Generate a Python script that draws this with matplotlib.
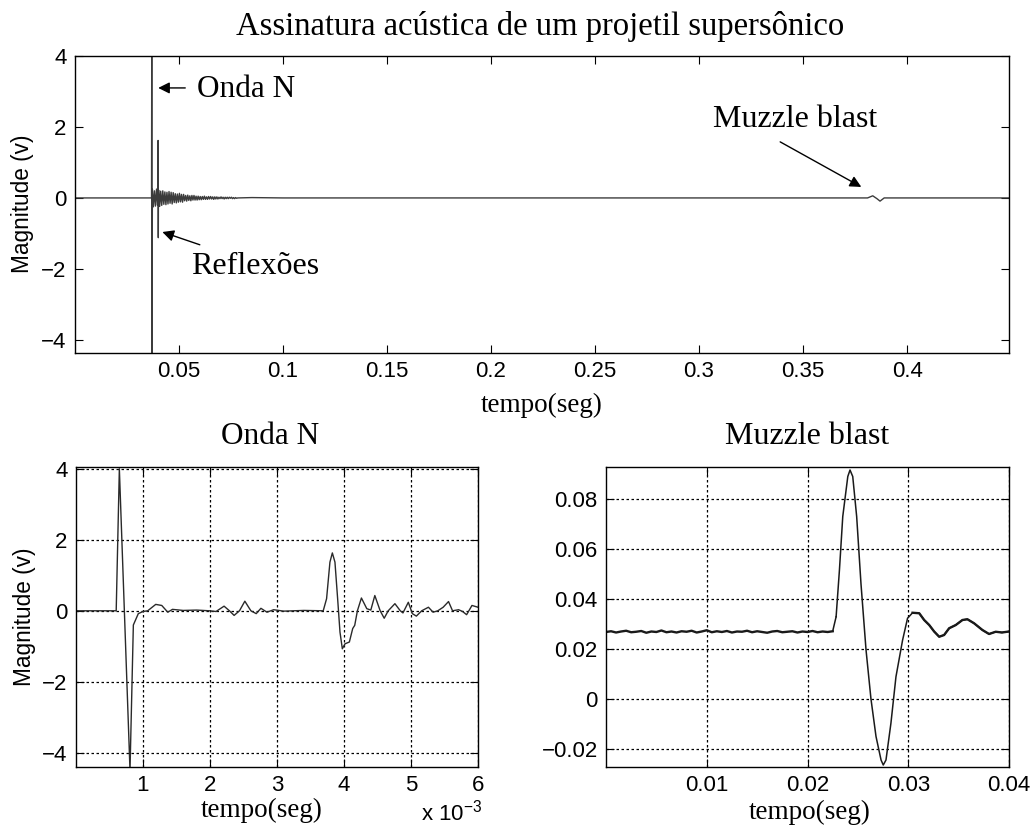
import numpy as np
import matplotlib
matplotlib.use("Agg")
import matplotlib.pyplot as plt

plt.rcParams["font.family"] = ["Liberation Sans", "DejaVu Sans"]
plt.rcParams["mathtext.fontset"] = "custom"
plt.rcParams["mathtext.rm"] = "Liberation Sans"
plt.rcParams["mathtext.it"] = "Liberation Sans"

SERIF = ["Liberation Serif", "DejaVu Serif"]

# sinal completo (s, V)
base_t = [0.0, 0.0368]
base_v = [0.0, 0.0]
nwave_t = [0.03690, 0.03700]
nwave_v = [4.6, -4.6]
reflex_t = [0.03990, 0.03995, 0.04005, 0.04010]
reflex_v = [0.0, 1.62, -1.12, 0.0]
# ruido logo apos a onda N (amostras a cada 0.5 ms a partir de 37.2 ms)
burst_v = [0.24, -0.25, 0.2, -0.23, 0.25, -0.2, 0.22, -0.24, 0.19, -0.21, 0.2,
           -0.18, 0.17, -0.19, 0.16, -0.17, 0.18, -0.15, 0.16, -0.17, 0.15,
           -0.13, 0.12, -0.14, 0.11, -0.12, 0.13, -0.11, 0.1, -0.12, 0.1,
           -0.08, 0.07, -0.09, 0.08, -0.07, 0.06, -0.08, 0.07, -0.06, 0.07,
           -0.06, 0.05, -0.06, 0.05, -0.05,
           0.04, -0.05, 0.04, -0.04, 0.05, -0.04, 0.03, -0.04, 0.04, -0.03,
           0.04, -0.03, 0.03, -0.04, 0.03, -0.03, 0.03, -0.03, 0.02, -0.02,
           0.03, -0.02, 0.02, -0.03, 0.02, -0.02, 0.02, -0.02, 0.02, -0.01,
           0.02, -0.02, 0.01, -0.02, 0.01, -0.01, 0.0]
tail_t = [0.085, 0.1, 0.381, 0.3835, 0.3855, 0.387, 0.389, 0.449]
tail_v = [0.01, 0.0, 0.0, 0.06, -0.02, -0.09, 0.0, 0.0]

# onda N ampliada (ms, V)
onda_t = [0, 0.6, 0.647, 0.806, 0.856, 0.93, 1.0, 1.07, 1.19, 1.28, 1.37, 1.44,
          1.6, 1.8, 1.99, 2.09, 2.21, 2.29, 2.36, 2.44, 2.52, 2.61, 2.69, 2.76,
          2.85, 2.95, 3.1, 3.4, 3.69, 3.74, 3.79, 3.826, 3.865, 3.905, 3.94,
          3.975, 4.015, 4.08, 4.13, 4.16, 4.2, 4.26, 4.34, 4.4, 4.46, 4.54,
          4.6, 4.66, 4.76, 4.84, 4.88, 4.96, 5.02, 5.08, 5.16, 5.26, 5.33, 5.4,
          5.48, 5.56, 5.62, 5.71, 5.77, 5.83, 5.91, 6.0]
onda_v = [0, 0, 4.0, -4.5, -0.4, -0.08, -0.02, 0.0, 0.18, 0.15, -0.04, 0.04,
          0.01, 0.02, 0.0, -0.02, 0.13, 0.0, -0.13, 0.0, 0.27, 0.0, -0.08, 0.07,
          -0.04, 0.03, -0.01, 0.01, 0.0, 0.34, 1.37, 1.63, 1.37, 0.34, -0.6,
          -1.07, -0.93, -0.88, -0.5, -0.41, 0.0, 0.36, 0.06, 0.02, 0.43, 0.0,
          -0.21, 0.0, 0.2, 0.0, -0.06, 0.24, -0.08, -0.15, 0.0, 0.1, -0.04, 0.0,
          0.1, 0.26, 0.0, 0.03, -0.02, -0.11, 0.15, 0.1]

# muzzle blast ampliado (s, V)
mb_base_v = [0.0268, 0.0271, 0.0266, 0.0270, 0.0273, 0.0267, 0.0269, 0.0272,
             0.0265, 0.0270, 0.0268, 0.0274, 0.0267, 0.0270, 0.0266, 0.0271,
             0.0269, 0.0273, 0.0266, 0.0270, 0.0275, 0.0267, 0.0271, 0.0268,
             0.0272, 0.0266, 0.0270, 0.0269, 0.0273, 0.0267, 0.0271, 0.0268,
             0.0265, 0.0270, 0.0272, 0.0267, 0.0269, 0.0271, 0.0266, 0.0270,
             0.0268, 0.0272, 0.0267, 0.0270, 0.0268, 0.0271]
mb_pulse_t = [0.02284, 0.02317, 0.0235, 0.0240, 0.02422, 0.02449, 0.02488,
              0.02531, 0.02581, 0.0263, 0.0268, 0.0273, 0.02752, 0.02779,
              0.02828, 0.02878, 0.02944, 0.02993, 0.03043, 0.03109, 0.03158,
              0.03208, 0.03257, 0.03307, 0.03356, 0.03406, 0.03472, 0.03538,
              0.03587, 0.03653, 0.03736, 0.03802, 0.03868, 0.0393, 0.0400]
mb_pulse_v = [0.0329, 0.0516, 0.073, 0.089, 0.0916, 0.089, 0.073, 0.046, 0.0196,
              0.0, -0.015, -0.0244, -0.0264, -0.0244, -0.0097, 0.0089, 0.0236,
              0.0323, 0.0345, 0.0343, 0.0316, 0.0296, 0.027, 0.0249, 0.0256,
              0.0283, 0.0296, 0.0316, 0.0319, 0.0303, 0.0276, 0.026, 0.0269,
              0.0266, 0.0270]

# monta os vetores
burst_t = 0.0372 + 0.0005 * np.arange(len(burst_v))
t_all = np.concatenate([base_t, nwave_t, reflex_t, burst_t, tail_t])
v_all = np.concatenate([base_v, nwave_v, reflex_v, burst_v, tail_v])
order = np.argsort(t_all, kind="stable")
t_all, v_all = t_all[order], v_all[order]

mb_base_t = np.linspace(0, 0.0225, len(mb_base_v))

fig = plt.figure(figsize=(10.32, 8.25), dpi=100)
W, H = 1032, 825


def box(x0, y0, x1, y1):
    return [x0 / W, 1 - y1 / H, (x1 - x0) / W, (y1 - y0) / H]


def style(ax):
    ax.tick_params(direction="in", top=True, right=True, length=6,
                   labelsize=16, colors="k", pad=6)
    for s in ax.spines.values():
        s.set_linewidth(1.0)


# --- sinal completo ---
ax1 = fig.add_axes(box(75, 56, 1009, 353))
ax1.plot(t_all, v_all, color="#3c3c3c", lw=1.0)
ax1.set_xlim(0, 0.449)
ax1.set_ylim(-4.37, 4.0)
ax1.set_xticks([0.05, 0.1, 0.15, 0.2, 0.25, 0.3, 0.35, 0.4])
ax1.set_xticklabels(["0.05", "0.1", "0.15", "0.2", "0.25", "0.3", "0.35", "0.4"])
ax1.set_yticks([-4, -2, 0, 2, 4])
style(ax1)
fig.text(540 / W, 1 - 27 / H, "Assinatura acústica de um projetil supersônico",
         family=SERIF, fontsize=23.5, ha="center", va="center")
fig.text(542 / W, 1 - 405 / H, "tempo(seg)", family=SERIF, fontsize=19.5,
         ha="center", va="center")
fig.text(22 / W, 1 - 204 / H, "Magnitude (v)", fontsize=16.3, rotation=90,
         ha="center", va="center")

# anotacoes: texto e seta separados
ax1.text(0.0587, 3.05, "Onda N", family=SERIF, fontsize=22.5, va="center")
ax1.text(0.056, -1.94, "Reflexões", family=SERIF, fontsize=23, va="center")
ax1.text(0.3065, 2.2, "Muzzle blast", family=SERIF, fontsize=23, va="center")
arrow = dict(arrowstyle="-|>", color="k", lw=1.0, mutation_scale=17,
             shrinkA=0, shrinkB=0)
ax1.annotate("", xy=(0.0400, 3.1), xytext=(0.053, 3.1), arrowprops=arrow)
ax1.annotate("", xy=(0.042, -0.96), xytext=(0.060, -1.32), arrowprops=arrow)
ax1.annotate("", xy=(0.378, 0.31), xytext=(0.339, 1.58), arrowprops=arrow)

grid = dict(color="k", linestyle=(0, (2, 2)), linewidth=0.9)

# --- onda N ---
ax2 = fig.add_axes(box(76, 467, 478, 767))
ax2.plot(onda_t, onda_v, color="#2a2a2a", lw=1.0)
ax2.set_xlim(0, 6)
ax2.set_ylim(-4.4, 4.05)
ax2.set_xticks([1, 2, 3, 4, 5, 6])
ax2.set_yticks([-4, -2, 0, 2, 4])
ax2.grid(True, **grid)
style(ax2)
fig.text(270 / W, 1 - 437 / H, "Onda N", family=SERIF, fontsize=22.5,
         ha="center", va="center")
fig.text(262 / W, 1 - 810 / H, "tempo(seg)", family=SERIF, fontsize=19.5,
         ha="center", va="center")
fig.text(25 / W, 1 - 617 / H, "Magnitude (v)", fontsize=16.3, rotation=90,
         ha="center", va="center")
fig.text(452 / W, 1 - 813 / H, r"x 10$^{-3}$", fontsize=16, ha="center",
         va="center")

# --- muzzle blast ---
ax3 = fig.add_axes(box(606, 467, 1009, 767))
ax3.plot(mb_base_t, mb_base_v, color="#1a1a1a", lw=1.7)
ax3.plot(mb_pulse_t, mb_pulse_v, color="#1a1a1a", lw=1.1)
ax3.plot(mb_pulse_t[-17:], mb_pulse_v[-17:], color="#1a1a1a", lw=1.7)
ax3.plot([mb_base_t[-1], mb_pulse_t[0]], [mb_base_v[-1], mb_pulse_v[0]],
         color="#1a1a1a", lw=1.1)
ax3.set_xlim(0, 0.04)
ax3.set_ylim(-0.0272, 0.0928)
ax3.set_xticks([0.01, 0.02, 0.03, 0.04])
ax3.set_xticklabels(["0.01", "0.02", "0.03", "0.04"])
ax3.set_yticks([-0.02, 0, 0.02, 0.04, 0.06, 0.08])
ax3.set_yticklabels(["\u22120.02", "0", "0.02", "0.04", "0.06", "0.08"])
ax3.grid(True, **grid)
style(ax3)
fig.text(807 / W, 1 - 437 / H, "Muzzle blast", family=SERIF, fontsize=23,
         ha="center", va="center")
fig.text(810 / W, 1 - 812 / H, "tempo(seg)", family=SERIF, fontsize=19.5,
         ha="center", va="center")

fig.savefig("out.png", dpi=100, facecolor="white")
